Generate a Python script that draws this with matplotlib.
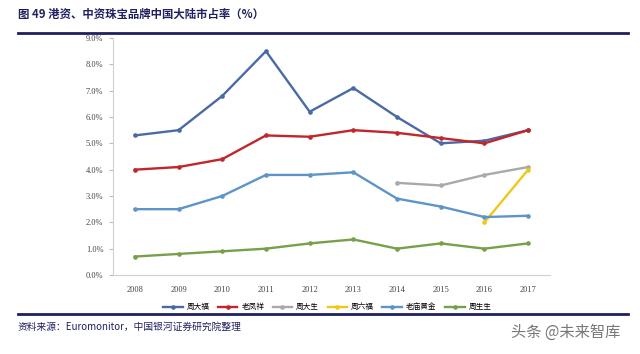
import matplotlib.pyplot as plt
import numpy as np

plt.rcParams['font.family'] = ['Noto Sans CJK SC', 'DejaVu Sans']

# data (market share, %)
years = ['2008', '2009', '2010', '2011', '2012', '2013', '2014', '2015', '2016', '2017']
zhou_da_fu = [5.3, 5.5, 6.8, 8.5, 6.2, 7.1, 6.0, 5.0, 5.1, 5.5]
lao_feng_xiang = [4.0, 4.1, 4.4, 5.3, 5.25, 5.5, 5.4, 5.2, 5.0, 5.5]
zhou_da_sheng = [np.nan] * 6 + [3.5, 3.4, 3.8, 4.1]
zhou_liu_fu = [np.nan] * 8 + [2.0, 4.0]
lao_miao = [2.5, 2.5, 3.0, 3.8, 3.8, 3.9, 2.9, 2.6, 2.2, 2.25]
zhou_sheng_sheng = [0.7, 0.8, 0.9, 1.0, 1.2, 1.35, 1.0, 1.2, 1.0, 1.2]

names = ['周大福', '老凤祥', '周大生', '周六福', '老庙黄金', '周生生']
series = [zhou_da_fu, lao_feng_xiang, zhou_da_sheng, zhou_liu_fu, lao_miao, zhou_sheng_sheng]
colors = ['#4a6aa6', '#c0262a', '#a9a9a9', '#f0c818', '#5e94c8', '#78a04a']

fig = plt.figure(figsize=(6.4, 3.54), dpi=100)
ax = fig.add_axes([113 / 640, 1 - 275 / 354, (550 - 113) / 640, (275 - 38) / 354])

x = np.arange(len(years))
for vals, name, c in zip(series, names, colors):
    ax.plot(x, vals, color=c, lw=1.7, marker='o', ms=2.3, label=name)

ax.set_xlim(-0.5, len(years) - 0.5)
ax.set_ylim(0, 9)
ax.set_yticks(np.arange(0, 10, 1))
ax.set_yticklabels([f'{v:.1f}%' for v in range(10)], fontfamily='Liberation Serif', fontsize=6, color='#444444')
ax.set_xticks(x)
ax.set_xticklabels(years, fontfamily='Liberation Serif', fontsize=6, color='#444444')
ax.tick_params(axis='y', length=3, color='#bbbbbb', pad=4)
ax.tick_params(axis='x', length=0, pad=8)
for s in ['top', 'right']:
    ax.spines[s].set_visible(False)
for s in ['left', 'bottom']:
    ax.spines[s].set_color('#d0d0d0')

ax.legend(loc='upper center', bbox_to_anchor=(0.49, -0.09), ncol=6, frameon=False,
          fontsize=5.5, handlelength=2.6, columnspacing=1.1, handletextpad=0.5)

# title and rules
fig.text(18 / 640, 1 - 14 / 354, '图 49 港资、中资珠宝品牌中国大陆市占率（%）', fontsize=8.2,
         fontweight='bold', color='#1f2060', va='center')
fig.add_artist(plt.Line2D([18 / 640, 628 / 640], [1 - 33 / 354] * 2, color='#1f2060', lw=2))
fig.add_artist(plt.Line2D([18 / 640, 628 / 640], [1 - 314 / 354] * 2, color='#1f2060', lw=2))
fig.text(18 / 640, 1 - 327 / 354, '资料来源：Euromonitor，中国银河证券研究院整理', fontsize=7,
         style='italic', color='#1f2060', va='center')
fig.text(620 / 640, 1 - 332 / 354, '头条 @未来智库', fontsize=11, color='#555555',
         va='center', ha='right', alpha=0.8)

fig.savefig('out.png', dpi=100)
